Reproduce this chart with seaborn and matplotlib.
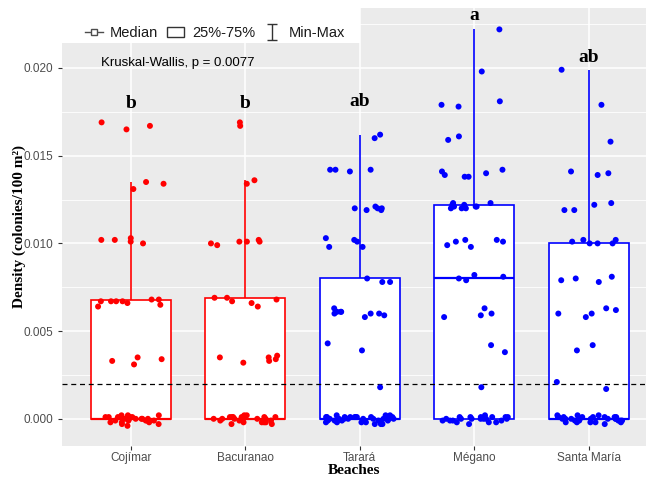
import numpy as np
import pandas as pd
import matplotlib.pyplot as plt
import seaborn as sns
from matplotlib.lines import Line2D
from matplotlib.patches import Patch, Rectangle
from matplotlib.path import Path

plt.rcParams['font.family'] = ['Liberation Sans', 'DejaVu Sans']

# groups, colours and significance letters
beaches = ['Cojímar', 'Bacuranao', 'Tarará', 'Mégano', 'Santa María']
colors = ['#FF0000', '#FF0000', '#0000FF', '#0000FF', '#0000FF']
letters = ['b', 'b', 'ab', 'a', 'ab']
letter_y = [0.0180, 0.0180, 0.0181, 0.0230, 0.0206]
threshold = 0.002

# densities (colonies/100 m2); the small +/- values
# around zero are zeros drawn with vertical jitter
cojimar = [0.0169, 0.0167, 0.0165, 0.0135, 0.0134, 0.0131,
           0.0103, 0.0102, 0.0102, 0.0101, 0.0100,
           0.0068, 0.0067, 0.0067, 0.0067, 0.0068, 0.0067, 0.0066, 0.0065, 0.0064,
           0.0035, 0.0034, 0.0033, 0.0031,
           0.0002, 0.0001, 0.0001, 0.0000, 0.0000, -0.0001, -0.0002, 0.0001, -0.0003,
           0.0000, 0.0002, -0.0001, -0.0002, 0.0001, 0.0000, -0.0001, -0.0004, 0.0001,
           0.0000, -0.0002, 0.0002, -0.0001, 0.0000, -0.0003, 0.0001, -0.0001]
bacuranao = [0.0169, 0.0167, 0.0136, 0.0134,
             0.0101, 0.0100, 0.0099, 0.0101, 0.0101, 0.0102,
             0.0068, 0.0064, 0.0069, 0.0067, 0.0066, 0.0069,
             0.0036, 0.0034, 0.0033, 0.0032, 0.0035, 0.0035,
             0.0001, 0.0000, -0.0002, 0.0002, -0.0001, 0.0000, 0.0001, -0.0003,
             0.0000, -0.0001, 0.0001, -0.0002, 0.0000, 0.0002, -0.0001, 0.0001,
             -0.0003, 0.0000, -0.0002, 0.0001, 0.0000, -0.0001, 0.0001, -0.0002]
tarara = [0.0162, 0.0160, 0.0142, 0.0142, 0.0142, 0.0141,
          0.0119, 0.0120, 0.0119, 0.0121, 0.0120, 0.0120,
          0.0103, 0.0102, 0.0101, 0.0098, 0.0098,
          0.0080, 0.0078, 0.0078,
          0.0063, 0.0061, 0.0060, 0.0060, 0.0061, 0.0058, 0.0061, 0.0060, 0.0059,
          0.0043, 0.0039, 0.0018,
          0.0001, 0.0000, -0.0002, 0.0002, -0.0001, 0.0000, 0.0001, -0.0003, 0.0000,
          -0.0001, 0.0001, -0.0002, 0.0000, 0.0002, -0.0001, 0.0001, -0.0003, 0.0000,
          -0.0002, 0.0001, 0.0000, -0.0001, 0.0001, -0.0002, 0.0000, 0.0001, -0.0001,
          0.0000, -0.0002, 0.0002, 0.0000, -0.0001, 0.0001, -0.0003, 0.0000, 0.0001,
          -0.0001]
megano = [0.0222, 0.0198, 0.0181, 0.0179, 0.0178, 0.0161, 0.0159,
          0.0142, 0.0141, 0.0140, 0.0139, 0.0138, 0.0138,
          0.0122, 0.0121, 0.0121, 0.0120, 0.0123, 0.0120, 0.0123, 0.0122, 0.0120, 0.0121,
          0.0101, 0.0102, 0.0099, 0.0102, 0.0101, 0.0098,
          0.0080, 0.0082, 0.0081, 0.0079,
          0.0063, 0.0059, 0.0060, 0.0058, 0.0042, 0.0038, 0.0018,
          0.0001, 0.0000, -0.0002, 0.0002, -0.0001, 0.0000, 0.0001, -0.0003, 0.0000,
          -0.0001, 0.0001, -0.0002, 0.0000, 0.0001, -0.0001, 0.0000, -0.0002, 0.0001,
          0.0000, -0.0001, 0.0000, 0.0001]
santa_maria = [0.0199, 0.0179, 0.0158, 0.0139, 0.0141, 0.0140,
               0.0119, 0.0123, 0.0122, 0.0119,
               0.0100, 0.0100, 0.0101, 0.0100, 0.0102, 0.0102,
               0.0081, 0.0079, 0.0078, 0.0080,
               0.0063, 0.0060, 0.0058, 0.0062, 0.0060,
               0.0042, 0.0039, 0.0021, 0.0017,
               0.0001, 0.0000, -0.0002, 0.0002, -0.0001, 0.0000, 0.0001, -0.0003,
               0.0000, -0.0001, 0.0001, -0.0002, 0.0000, 0.0002, -0.0001, 0.0001,
               0.0000, -0.0002, 0.0001, 0.0000, -0.0001, 0.0001, -0.0002, 0.0000,
               0.0001, -0.0001, 0.0000, 0.0002, -0.0001, 0.0000, 0.0001, -0.0002]

values = [cojimar, bacuranao, tarara, megano, santa_maria]
df = pd.DataFrame({'beach': np.repeat(beaches, [len(v) for v in values]),
                   'density': np.concatenate(values)})
# box statistics use the true zeros, not the jittered positions
df['box_density'] = df['density'].where(df['density'].abs() > 0.0004, 0.0)
pal = dict(zip(beaches, colors))

fig = plt.figure(figsize=(6.54, 4.79), dpi=100)
ax = fig.add_axes([62/654, 1 - 446/479, 584/654, 438/479])
ax.set_facecolor('#EBEBEB')

# white boxes with coloured outlines, one call per beach
for b, c in zip(beaches, colors):
    sns.boxplot(data=df[df['beach'] == b], x='beach', y='box_density', order=beaches,
                color='white', linecolor=c, linewidth=1.2, width=0.7, whis=1.3,
                showfliers=False, capprops={'linewidth': 0},
                medianprops={'linewidth': 1.6}, ax=ax)

np.random.seed(7)
sns.stripplot(data=df, x='beach', y='density', hue='beach', palette=pal,
              order=beaches, jitter=0.3, size=4.3, legend=False, zorder=3, ax=ax)

ax.axhline(threshold, color='black', linestyle=(0, (4, 3)), linewidth=0.9, zorder=2.5)

for i, (l, y) in enumerate(zip(letters, letter_y)):
    ax.text(i, y, l, ha='center', va='center', fontsize=14, fontweight='bold',
            family='Liberation Serif', color='black')

ax.text(-0.26, 0.02028, 'Kruskal-Wallis, p = 0.0077', ha='left', va='center',
        fontsize=9.5, color='black')

ax.set_xlim(-0.6, 4.5)
ax.set_ylim(-0.00155, 0.02342)
ax.set_yticks([0, 0.005, 0.010, 0.015, 0.020])
ax.set_yticklabels(['0.000', '0.005', '0.010', '0.015', '0.020'])
ax.set_yticks([0.0025, 0.0075, 0.0125, 0.0175, 0.0225], minor=True)
ax.grid(which='major', color='white', linewidth=1.1)
ax.grid(which='minor', axis='y', color='white', linewidth=0.6)
ax.set_axisbelow(True)
for s in ax.spines.values():
    s.set_visible(False)
ax.tick_params(which='major', length=3, color='#333333', labelcolor='#4D4D4D',
               labelsize=8.5, width=0.8)
ax.tick_params(axis='x', pad=1.5)
ax.tick_params(which='minor', length=0)

ax.set_xlabel('Beaches', family='Liberation Serif', fontweight='bold', fontsize=11,
              labelpad=0)
ax.set_ylabel('Density (colonies/100 m²)', family='Liberation Serif',
              fontweight='bold', fontsize=11, labelpad=-2)

# legend on a white strip across the top-left corner
fig.add_artist(Rectangle((0, 1 - 43/479), 360/654, 43/479, transform=fig.transFigure,
                         facecolor='white', edgecolor='none', zorder=5))
ibeam = Path([(-0.6, 1), (0.6, 1), (0, 1), (0, -1), (-0.6, -1), (0.6, -1)],
             [Path.MOVETO, Path.LINETO, Path.MOVETO, Path.LINETO, Path.MOVETO, Path.LINETO])
handles = [Line2D([0], [0], color='#4D4D4D', lw=1, marker='s', markersize=4.5,
                  markerfacecolor='white', markeredgecolor='#4D4D4D'),
           Patch(facecolor='white', edgecolor='#333333', linewidth=1),
           Line2D([0], [0], color='#333333', linestyle='none', marker=ibeam,
                  markersize=11, markerfacecolor='none', markeredgecolor='#333333',
                  markeredgewidth=1)]
leg = fig.legend(handles, ['Median', '25%-75%', 'Min-Max'], loc='center',
                 bbox_to_anchor=(215/654, 1 - 33/479), ncol=3, frameon=False,
                 fontsize=10.5, handlelength=1.2, handletextpad=0.5, columnspacing=0.6)
leg.set_zorder(6)
for t in leg.get_texts():
    t.set_color('#1A1A1A')

fig.savefig('out.png', dpi=100)
